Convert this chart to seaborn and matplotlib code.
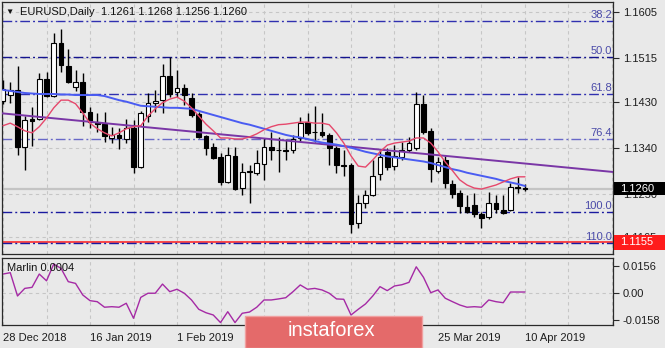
import numpy as np
import pandas as pd
import matplotlib
matplotlib.use("Agg")
import matplotlib.pyplot as plt
import matplotlib.transforms as mtransforms
from matplotlib.patches import Rectangle
import seaborn as sns

# ---------------- data ----------------
dates = pd.bdate_range("2018-12-28", "2019-04-10")
dates = dates[dates != pd.Timestamp("2019-01-01")]

opens = [1.1431, 1.1443, 1.1452, 1.1341, 1.1396, 1.1396, 1.1475, 1.1441, 1.1545, 1.1500,
         1.1459, 1.1469, 1.1410, 1.1390, 1.1386, 1.1359, 1.1365, 1.1357, 1.1379, 1.1302,
         1.1402, 1.1428, 1.1433, 1.1480, 1.1448, 1.1457, 1.1437, 1.1406, 1.1363, 1.1341,
         1.1322, 1.1273, 1.1324, 1.1261, 1.1294, 1.1291, 1.1308, 1.1341, 1.1336, 1.1335,
         1.1336, 1.1359, 1.1390, 1.1371, 1.1371, 1.1365, 1.1340, 1.1306, 1.1306, 1.1193,
         1.1232, 1.1248, 1.1289, 1.1332, 1.1304, 1.1322, 1.1336, 1.1340, 1.1426, 1.1373,
         1.1295, 1.1316, 1.1269, 1.1251, 1.1224, 1.1228, 1.1210, 1.1204, 1.1232, 1.1218,
         1.1218, 1.1263, 1.1261]
highs = [1.1473, 1.1469, 1.1499, 1.1401, 1.1420, 1.1486, 1.1488, 1.1565, 1.1572, 1.1533,
         1.1492, 1.1486, 1.1420, 1.1408, 1.1410, 1.1381, 1.1379, 1.1396, 1.1394, 1.1412,
         1.1447, 1.1453, 1.1504, 1.1518, 1.1491, 1.1465, 1.1447, 1.1410, 1.1365, 1.1349,
         1.1330, 1.1341, 1.1341, 1.1310, 1.1306, 1.1336, 1.1359, 1.1371, 1.1361, 1.1357,
         1.1365, 1.1400, 1.1408, 1.1422, 1.1408, 1.1369, 1.1343, 1.1336, 1.1310, 1.1248,
         1.1257, 1.1316, 1.1336, 1.1340, 1.1345, 1.1351, 1.1361, 1.1449, 1.1443, 1.1379,
         1.1322, 1.1324, 1.1277, 1.1257, 1.1248, 1.1251, 1.1214, 1.1253, 1.1248, 1.1248,
         1.1271, 1.1283, 1.1268]
lows = [1.1426, 1.1427, 1.1326, 1.1296, 1.1343, 1.1394, 1.1439, 1.1439, 1.1488, 1.1467,
        1.1451, 1.1383, 1.1379, 1.1371, 1.1351, 1.1349, 1.1338, 1.1349, 1.1291, 1.1300,
        1.1390, 1.1410, 1.1408, 1.1439, 1.1440, 1.1424, 1.1400, 1.1359, 1.1326, 1.1318,
        1.1267, 1.1271, 1.1257, 1.1248, 1.1232, 1.1287, 1.1277, 1.1316, 1.1293, 1.1316,
        1.1330, 1.1353, 1.1365, 1.1351, 1.1361, 1.1307, 1.1291, 1.1285, 1.1173, 1.1183,
        1.1222, 1.1246, 1.1277, 1.1296, 1.1296, 1.1316, 1.1332, 1.1336, 1.1367, 1.1273,
        1.1291, 1.1261, 1.1242, 1.1212, 1.1212, 1.1204, 1.1183, 1.1200, 1.1212, 1.1210,
        1.1216, 1.1251, 1.1256]
closes = [1.1455, 1.1452, 1.1342, 1.1394, 1.1392, 1.1474, 1.1441, 1.1545, 1.1502, 1.1469,
          1.1469, 1.1410, 1.1390, 1.1386, 1.1363, 1.1365, 1.1359, 1.1379, 1.1302, 1.1408,
          1.1428, 1.1432, 1.1480, 1.1445, 1.1457, 1.1443, 1.1404, 1.1361, 1.1340, 1.1320,
          1.1273, 1.1326, 1.1259, 1.1293, 1.1293, 1.1310, 1.1341, 1.1336, 1.1335, 1.1334,
          1.1357, 1.1388, 1.1369, 1.1370, 1.1365, 1.1340, 1.1306, 1.1304, 1.1191, 1.1232,
          1.1248, 1.1285, 1.1322, 1.1302, 1.1324, 1.1336, 1.1349, 1.1426, 1.1371, 1.1298,
          1.1312, 1.1271, 1.1250, 1.1226, 1.1214, 1.1210, 1.1202, 1.1232, 1.1220, 1.1212,
          1.1263, 1.1261, 1.1260]

ma_fast = [1.1383, 1.1388, 1.1381, 1.1373, 1.1369, 1.1381, 1.1398, 1.1418, 1.1433, 1.1433,
           1.1426, 1.1408, 1.1388, 1.1377, 1.1369, 1.1363, 1.1369, 1.1377, 1.1381, 1.1383,
           1.1402, 1.1416, 1.1428, 1.1435, 1.1439, 1.1431, 1.1418, 1.1402, 1.1386, 1.1373,
           1.1359, 1.1359, 1.1357, 1.1357, 1.1361, 1.1367, 1.1375, 1.1381, 1.1385, 1.1386,
           1.1388, 1.1390, 1.1390, 1.1388, 1.1388, 1.1385, 1.1369, 1.1349, 1.1324, 1.1304,
           1.1302, 1.1316, 1.1332, 1.1345, 1.1349, 1.1351, 1.1353, 1.1359, 1.1359, 1.1349,
           1.1332, 1.1312, 1.1295, 1.1277, 1.1267, 1.1261, 1.1259, 1.1263, 1.1267, 1.1273,
           1.1279, 1.1283, 1.1283]
ma_slow = [1.1453, 1.1451, 1.1449, 1.1447, 1.1446, 1.1445, 1.1445, 1.1445, 1.1444, 1.1444,
           1.1443, 1.1443, 1.1443, 1.1443, 1.1441, 1.1437, 1.1433, 1.1430, 1.1426, 1.1422,
           1.1421, 1.1420, 1.1419, 1.1418, 1.1418, 1.1417, 1.1416, 1.1412, 1.1408, 1.1404,
           1.1400, 1.1396, 1.1392, 1.1388, 1.1385, 1.1381, 1.1377, 1.1373, 1.1369, 1.1365,
           1.1362, 1.1360, 1.1357, 1.1353, 1.1350, 1.1348, 1.1346, 1.1343, 1.1340, 1.1336,
           1.1332, 1.1329, 1.1326, 1.1323, 1.1321, 1.1319, 1.1317, 1.1315, 1.1313, 1.1310,
           1.1306, 1.1302, 1.1298, 1.1295, 1.1291, 1.1288, 1.1285, 1.1282, 1.1279, 1.1275,
           1.1272, 1.1269, 1.1265]
marlin = [0.0108, 0.0116, -0.0019, 0.0025, 0.0031, 0.0108, 0.0069, 0.0166, 0.0141, 0.0064,
          0.0054, -0.0013, -0.0046, -0.0052, -0.0084, -0.0081, -0.0084, -0.0061, -0.0148, -0.0027,
          -0.0003, -0.0003, 0.0050, 0.0006, 0.0020, -0.0003, -0.0042, -0.0096, -0.0116, -0.0129,
          -0.0173, -0.0110, -0.0173, -0.0119, -0.0112, -0.0084, -0.0042, -0.0042, -0.0036, -0.0029,
          0.0006, 0.0045, 0.0020, 0.0025, 0.0016, -0.0003, -0.0036, -0.0038, -0.0129, -0.0096,
          -0.0065, -0.0019, 0.0035, 0.0012, 0.0039, 0.0046, 0.0060, 0.0150, 0.0089, 0.0000,
          0.0016, -0.0032, -0.0052, -0.0071, -0.0084, -0.0081, -0.0084, -0.0042, -0.0052, -0.0058,
          0.0004, 0.0004, 0.0004]

# trendline anchors (bar index, price)
trend_bars = [0, 72]
trend_prices = [1.1407, 1.1309]

fib_labels = ["38.2", "50.0", "61.8", "76.4", "100.0", "110.0"]
fib_prices = [1.1588, 1.1517, 1.1445, 1.1357, 1.1214, 1.11535]
stop_level = 1.1155

price_ticks = [1.1165, 1.1250, 1.1340, 1.1430, 1.1515, 1.1605]
price_tick_labels = ["1.1165", "1.1250", "1.1340", "1.1430", "1.1515", "1.1605"]
osc_ticks = [-0.0158, 0.0, 0.0156]
osc_tick_labels = ["-0.0158", "0.00", "0.0156"]
date_tick_bars = [0, 12, 24, 36, 48, 60, 72]
date_label_bars = [0, 12, 24, 60, 72]   # the others sit under the logo

symbol_title = "EURUSD,Daily"

# ---------------- style ----------------
sns.set_style("white")
plt.rcParams["font.family"] = ["Liberation Sans", "DejaVu Sans"]
plt.rcParams["font.size"] = 8

W, H = 665, 348
bg = "#e9e9e9"
grid_c = "#c6c6c6"
fig = plt.figure(figsize=(W / 100, H / 100), dpi=100)
fig.patch.set_facecolor(bg)

ax = fig.add_axes([2 / W, 1 - 254 / H, 611 / W, 252 / H])
ax2 = fig.add_axes([2 / W, 1 - 325 / H, 611 / W, 67 / H])

n = len(closes)
idx = np.arange(n)
xlim = (-0.14, 84.14)

for a in (ax, ax2):
    a.set_facecolor(bg)
    a.set_xlim(*xlim)
    for s in a.spines.values():
        s.set_color("#2a2a2a")
        s.set_linewidth(0.9)
    for gx in range(0, 85, 6):
        a.axvline(gx, color=grid_c, lw=0.8, ls=(0, (3, 3)), zorder=0)

# ---------------- main panel ----------------
ax.set_ylim(1.1132, 1.1625)
for gy in price_ticks:
    ax.axhline(gy, color=grid_c, lw=0.8, ls=(0, (3, 3)), zorder=0)

# current price line and stop level
ax.axhline(closes[-1], color="#c4c4c4", lw=1.6, zorder=1)
ax.axhline(stop_level, color="#ff2a2a", lw=1.2, zorder=1.5)

# fibonacci levels
fib_colors = ["#3030b0", "#14148f", "#3030b0", "#6868c8", "#1a1aa0", "#1a1aa0"]
for lab, lv, c in zip(fib_labels, fib_prices, fib_colors):
    ax.axhline(lv, color=c, lw=1.0, dashes=(7, 2.2, 1.4, 2.2), zorder=2)
    ax.text(84.0, lv + 0.00015, lab, ha="right", va="bottom", color="#4a4aa8",
            fontsize=8, zorder=6)

# candles
body_w = 0.68
for i in idx:
    o, h, l, c = opens[i], highs[i], lows[i], closes[i]
    ax.vlines(i, l, h, color="black", lw=1.0, zorder=3)
    bottom = min(o, c)
    height = max(abs(c - o), 0.00003)
    fc = "white" if c > o else "black"
    ax.bar(i, height, bottom=bottom, width=body_w, color=fc, edgecolor="black",
           linewidth=0.8, zorder=4)

# trendline
ax.axline((trend_bars[0], trend_prices[0]), (trend_bars[1], trend_prices[1]),
          color="#7a36a6", lw=1.4, zorder=4.5)

# moving averages
sns.lineplot(x=idx, y=ma_slow, ax=ax, color="#4a5cf2", lw=1.4, zorder=5, legend=False)
sns.lineplot(x=idx, y=ma_fast, ax=ax, color="#e6486c", lw=1.0, zorder=5.5, legend=False)
ax.set_xlabel("")
ax.set_ylabel("")

ax.set_xticks([])
ax.yaxis.tick_right()
ax.set_yticks(price_ticks)
ax.set_yticklabels(price_tick_labels)
ax.tick_params(axis="y", length=4, width=0.8, color="#2a2a2a", labelsize=8,
               labelcolor="#1e1e1e", pad=3, direction="out")

# price boxes on the right axis
bt = mtransforms.blended_transform_factory(fig.transFigure, ax.transData)
box_h = 0.0026
ax.add_patch(Rectangle((614 / W, closes[-1] - box_h / 2), 51 / W, box_h, transform=bt,
                       facecolor="black", edgecolor="none", clip_on=False, zorder=10))
ax.text(620 / W, closes[-1], f"{closes[-1]:.4f}", transform=bt, color="white",
        ha="left", va="center", fontsize=8, clip_on=False, zorder=11)
ax.add_patch(Rectangle((614 / W, stop_level - box_h / 2 - 0.0002), 51 / W, box_h + 0.0004,
                       transform=bt, facecolor="#ff1c1c", edgecolor="none",
                       clip_on=False, zorder=10))
ax.text(620 / W, stop_level, f"{stop_level:.4f}", transform=bt, color="white",
        ha="left", va="center", fontsize=8, clip_on=False, zorder=11)

# header
fig.text(5 / W, 1 - 12 / H, "\u25BC", fontsize=6, va="center", color="#111")
fig.text(20 / W, 1 - 12 / H,
         f"{symbol_title}  {opens[-1]:.4f} {highs[-1]:.4f} {lows[-1]:.4f} {closes[-1]:.4f}",
         fontsize=8, va="center", color="#111")

# ---------------- oscillator ----------------
ax2.set_ylim(-0.0187, 0.0201)
ax2.axhline(0, color=grid_c, lw=0.8, ls=(0, (3, 3)), zorder=0)
sns.lineplot(x=idx, y=marlin, ax=ax2, color="#a52aa5", lw=1.0, legend=False)
ax2.set_xlabel("")
ax2.set_ylabel("")
ax2.yaxis.tick_right()
ax2.set_yticks(osc_ticks)
ax2.set_yticklabels(osc_tick_labels)
ax2.tick_params(axis="y", length=4, width=0.8, color="#2a2a2a", labelsize=8,
                labelcolor="#1e1e1e", pad=3)
ax2.set_xticks(date_tick_bars)
ax2.set_xticklabels([f"{dates[i].day} {dates[i]:%b %Y}" if i in date_label_bars else ""
                     for i in date_tick_bars], ha="left")
ax2.tick_params(axis="x", length=4, width=0.8, color="#2a2a2a", labelsize=8,
                labelcolor="#1e1e1e", pad=2)
ax2.text(0.008, 0.85, f"Marlin {marlin[-1]:.4f}", transform=ax2.transAxes,
         fontsize=8, va="center", ha="left", color="#111")

# logo
fig.add_artist(Rectangle((245 / W, 0), 177 / W, 32 / H, transform=fig.transFigure,
                         facecolor="#e46a6a", edgecolor="#f0a0a0", lw=1, zorder=20))
fig.text(331 / W, 1 - 331 / H, "instaforex", color="white", fontsize=14.5,
         ha="center", va="center", zorder=21)

fig.savefig("out.png", dpi=100, facecolor=bg)
